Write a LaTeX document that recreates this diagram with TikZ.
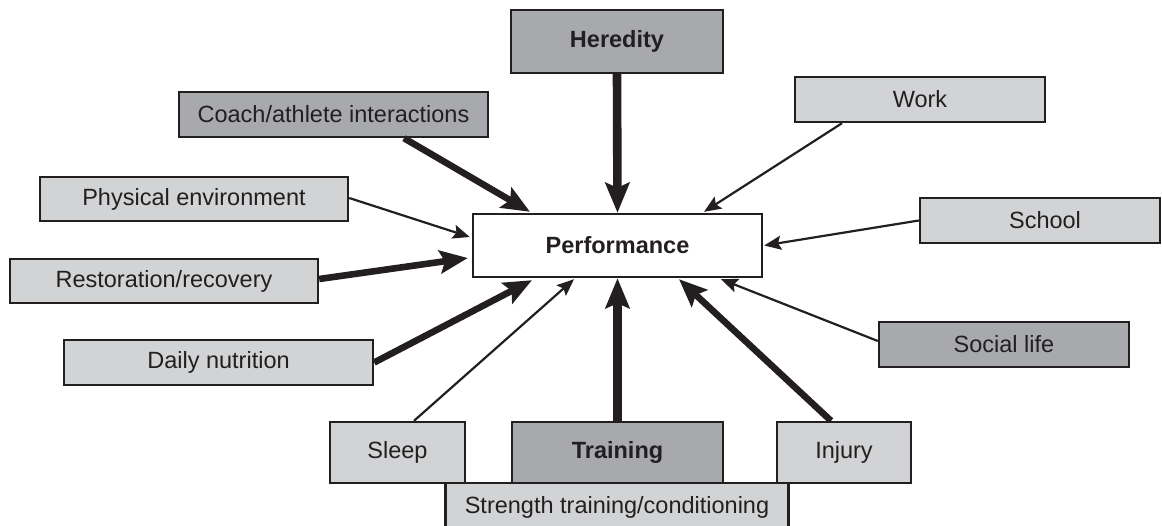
\documentclass[tikz,border=0pt]{standalone}
\usepackage{fontspec}
\setmainfont{Liberation Sans}
\usetikzlibrary{arrows.meta}
\definecolor{lightbox}{HTML}{D1D3D4}
\definecolor{darkbox}{HTML}{A7A9AC}
\definecolor{inkline}{HTML}{231F20}
\begin{document}
\begin{tikzpicture}[x=0.5pt,y=-0.5pt,
  boxbase/.style={draw=inkline,line width=1.2pt,inner sep=0pt,align=center,
    font=\fontsize{11.75}{14}\selectfont,text=inkline},
  lbox/.style={boxbase,fill=lightbox},
  dbox/.style={boxbase,fill=darkbox},
  wbox/.style={boxbase,fill=white},
  thinarrow/.style={draw=inkline,line width=1.1pt,
    -{Stealth[length=8.5pt,width=7pt,inset=1.5pt]}},
  thickarrow/.style={draw=inkline,line width=3.3pt,
    -{Stealth[length=14pt,width=11.5pt,inset=2.5pt]}},
  vertarrow/.style={draw=inkline,line width=4.3pt,
    -{Stealth[length=15pt,width=12pt,inset=2.5pt]}}
]
\useasboundingbox (0,0) rectangle (1162,525);
\clip (0,0) rectangle (1162,525);

% boxes
\node[dbox,minimum width=106pt,minimum height=31.5pt,font=\fontsize{11.75}{14}\selectfont\bfseries] (her) at (617,41.5) {Heredity};
\node[dbox,minimum width=154.5pt,minimum height=22.5pt] (coach) at (333.5,114.5) {Coach/athlete interactions};
\node[lbox,minimum width=125pt,minimum height=22.5pt] (work) at (920,99.5) {Work};
\node[lbox,minimum width=154pt,minimum height=22pt] (phys) at (194,199) {Physical environment};
\node[wbox,minimum width=144.5pt,minimum height=31.5pt,font=\fontsize{11.75}{14}\selectfont\bfseries] (perf) at (617.5,245.5) {Performance};
\node[lbox,minimum width=120pt,minimum height=22.5pt,text width=118pt,align=center] (school) at (1040,220.5) {\hspace*{5pt}School};
\node[lbox,minimum width=154pt,minimum height=22pt] (rest) at (164,281) {Restoration/recovery};
\node[dbox,minimum width=125pt,minimum height=22.5pt] (social) at (1004,344.5) {Social life};
\node[lbox,minimum width=154.5pt,minimum height=22.5pt] (daily) at (218.5,362.5) {Daily nutrition};
\node[lbox,minimum width=171.5pt,minimum height=24pt] (strength) at (617,507) {Strength training/conditioning};
\node[lbox,minimum width=67.5pt,minimum height=30.5pt] (sleep) at (397.5,452.5) {Sleep};
\node[dbox,minimum width=105.5pt,minimum height=30.5pt,font=\fontsize{11.75}{14}\selectfont\bfseries] (train) at (617.5,452.5) {Training};
\node[lbox,minimum width=67pt,minimum height=30.5pt] (injury) at (844,452.5) {Injury};

% connectors
\draw[vertarrow] (her.south) -- (perf.north);
\draw[thickarrow] ([xshift=35.25pt]coach.south) -- ([xshift=-43.75pt,yshift=0.5pt]perf.north);
\draw[thinarrow] ([xshift=-39pt]work.south) -- ([xshift=43.25pt,yshift=0.5pt]perf.north);
\draw[thinarrow] ([yshift=0.5pt]phys.east) -- ([xshift=-1pt,yshift=4.25pt]perf.west);
\draw[thinarrow] (school.west) -- ([xshift=0.5pt]perf.east);
\draw[thickarrow] ([yshift=1pt]rest.east) -- ([xshift=-2pt,yshift=-6.25pt]perf.west);
\draw[thickarrow] (daily.east) -- ([xshift=-42.75pt,yshift=-1pt]perf.south);
\draw[thinarrow] ([xshift=8.25pt]sleep.north) -- ([xshift=-21.75pt,yshift=-0.5pt]perf.south);
\draw[vertarrow] (train.north) -- (perf.south);
\draw[thickarrow] ([xshift=-6.5pt]injury.north) -- ([xshift=30.75pt,yshift=-0.5pt]perf.south);
\draw[thinarrow] ([yshift=1.75pt]social.west) -- ([xshift=51.75pt,yshift=-0.5pt]perf.south);
\end{tikzpicture}
\end{document}
